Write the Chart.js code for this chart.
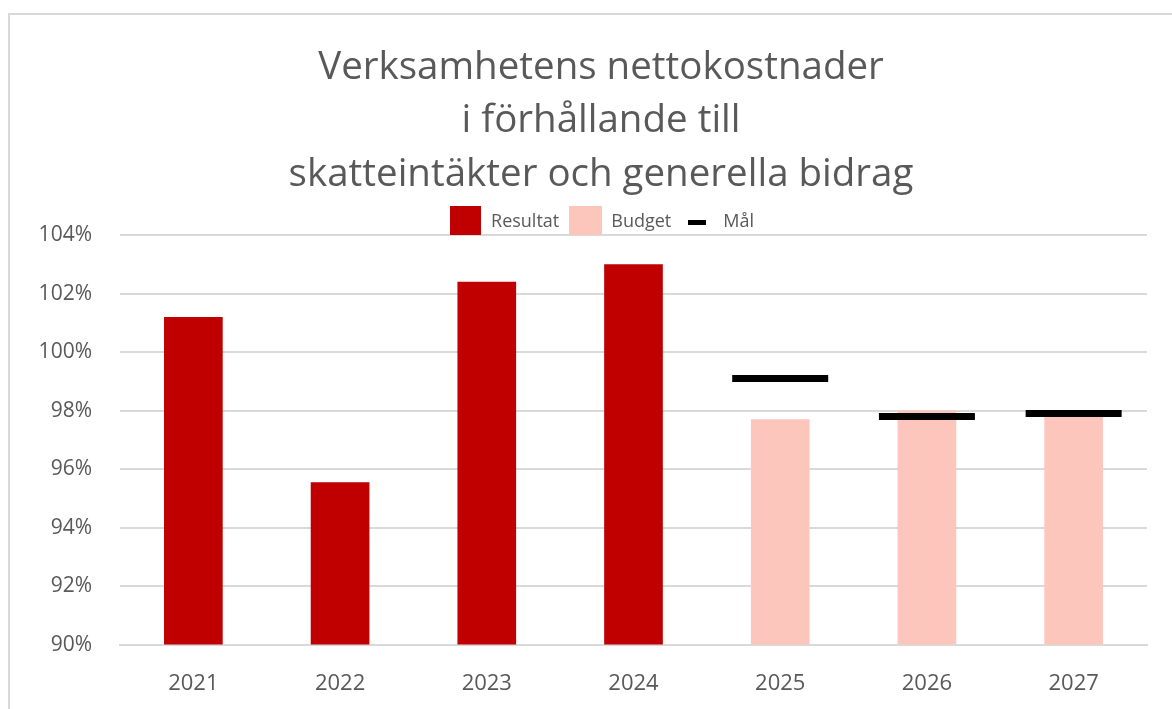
<!DOCTYPE html>
<html lang="sv">
<head>
<meta charset="UTF-8">
<title>Verksamhetens nettokostnader</title>
<script src="https://cdn.jsdelivr.net/npm/chart.js"></script>
<style>
    html, body {
        margin: 0;
        padding: 0;
        background: #fff;
        overflow: hidden;
    }
    #frame {
        position: absolute;
        left: 8px;
        top: 13px;
        width: 1182px;
        height: 704px;
        border-top: 2px solid #d9d9d9;
        border-left: 2px solid #d9d9d9;
    }
</style>
</head>
<body>
<div id="frame"><canvas id="chart"></canvas></div>
<script>
    const years = ['2021', '2022', '2023', '2024', '2025', '2026', '2027'];
    const resultat = [101.2, 95.55, 102.4, 103.0, null, null, null];
    const budget = [null, null, null, null, 97.7, 98.0, 97.9];
    const mal = [null, null, null, null, 99.1, 97.8, 97.9];
    const titleLines = ['Verksamhetens nettokostnader', 'i förhållande till', 'skatteintäkter och generella bidrag'];

    const grey = '#595959';
    const fontFamily = "'Open Sans', 'Noto Sans', sans-serif";

    function icon(w, h, color) {
        let c = document.createElement('canvas');
        c.width = w;
        c.height = h;
        let g = c.getContext('2d');
        g.fillStyle = color;
        g.fillRect(0, 0, w, h);
        return c;
    }
    const legendIcons = [icon(31, 33, '#c00000'), icon(33, 32, '#fcc6bd'), icon(18, 5, '#000')];

    new Chart(document.getElementById('chart'), {
        data: {
            labels: years,
            datasets: [
                {
                    type: 'bar',
                    label: 'Resultat',
                    data: resultat,
                    backgroundColor: '#c00000',
                    grouped: false,
                    barPercentage: 0.4,
                    categoryPercentage: 1,
                    order: 1
                },
                {
                    type: 'bar',
                    label: 'Budget',
                    data: budget,
                    backgroundColor: '#fcc6bd',
                    grouped: false,
                    barPercentage: 0.4,
                    categoryPercentage: 1,
                    order: 1
                },
                {
                    type: 'line',
                    label: 'Mål',
                    data: mal,
                    showLine: false,
                    pointStyle: 'line',
                    pointRadius: 48,
                    pointHoverRadius: 48,
                    pointBorderWidth: 7,
                    pointHoverBorderWidth: 7,
                    borderColor: '#000',
                    pointBorderColor: '#000',
                    order: 0
                }
            ]
        },
        options: {
            responsive: true,
            maintainAspectRatio: false,
            animation: false,
            layout: {
                autoPadding: false,
                padding: { left: 16, right: 16, bottom: 4 }
            },
            plugins: {
                tooltip: { enabled: false },
                title: {
                    display: true,
                    text: titleLines,
                    color: grey,
                    font: { family: fontFamily, size: 38.5, weight: 'normal', lineHeight: 1.39 },
                    padding: { top: 26, bottom: 2.5 }
                },
                legend: {
                    position: 'top',
                    maxHeight: 31,
                    labels: {
                        color: grey,
                        font: { family: fontFamily, size: 18 },
                        usePointStyle: true,
                        pointStyleWidth: 34,
                        padding: 9,
                        sort: (a, b) => a.datasetIndex - b.datasetIndex,
                        generateLabels(chart) {
                            let items = Chart.defaults.plugins.legend.labels.generateLabels(chart);
                            items.forEach(it => { it.pointStyle = legendIcons[it.datasetIndex]; });
                            return items;
                        }
                    }
                }
            },
            scales: {
                x: {
                    grid: { display: false },
                    border: { display: true, color: '#d9d9d9', width: 2 },
                    ticks: {
                        color: grey,
                        font: { family: fontFamily, size: 22 },
                        padding: 18
                    }
                },
                y: {
                    min: 90,
                    max: 104,
                    border: { display: false },
                    grid: { color: '#d9d9d9', lineWidth: 2, drawTicks: false },
                    afterFit(scale) { scale.width = 94; },
                    ticks: {
                        stepSize: 2,
                        color: grey,
                        font: { family: fontFamily, size: 21 },
                        padding: 28,
                        callback: v => v + '%'
                    }
                },
                // empty right axis, only to leave the right-hand margin
                y2: {
                    position: 'right',
                    display: true,
                    grid: { display: false },
                    border: { display: false },
                    ticks: { display: false },
                    afterFit(scale) { scale.width = 29; }
                }
            }
        }
    });
</script>
</body>
</html>
